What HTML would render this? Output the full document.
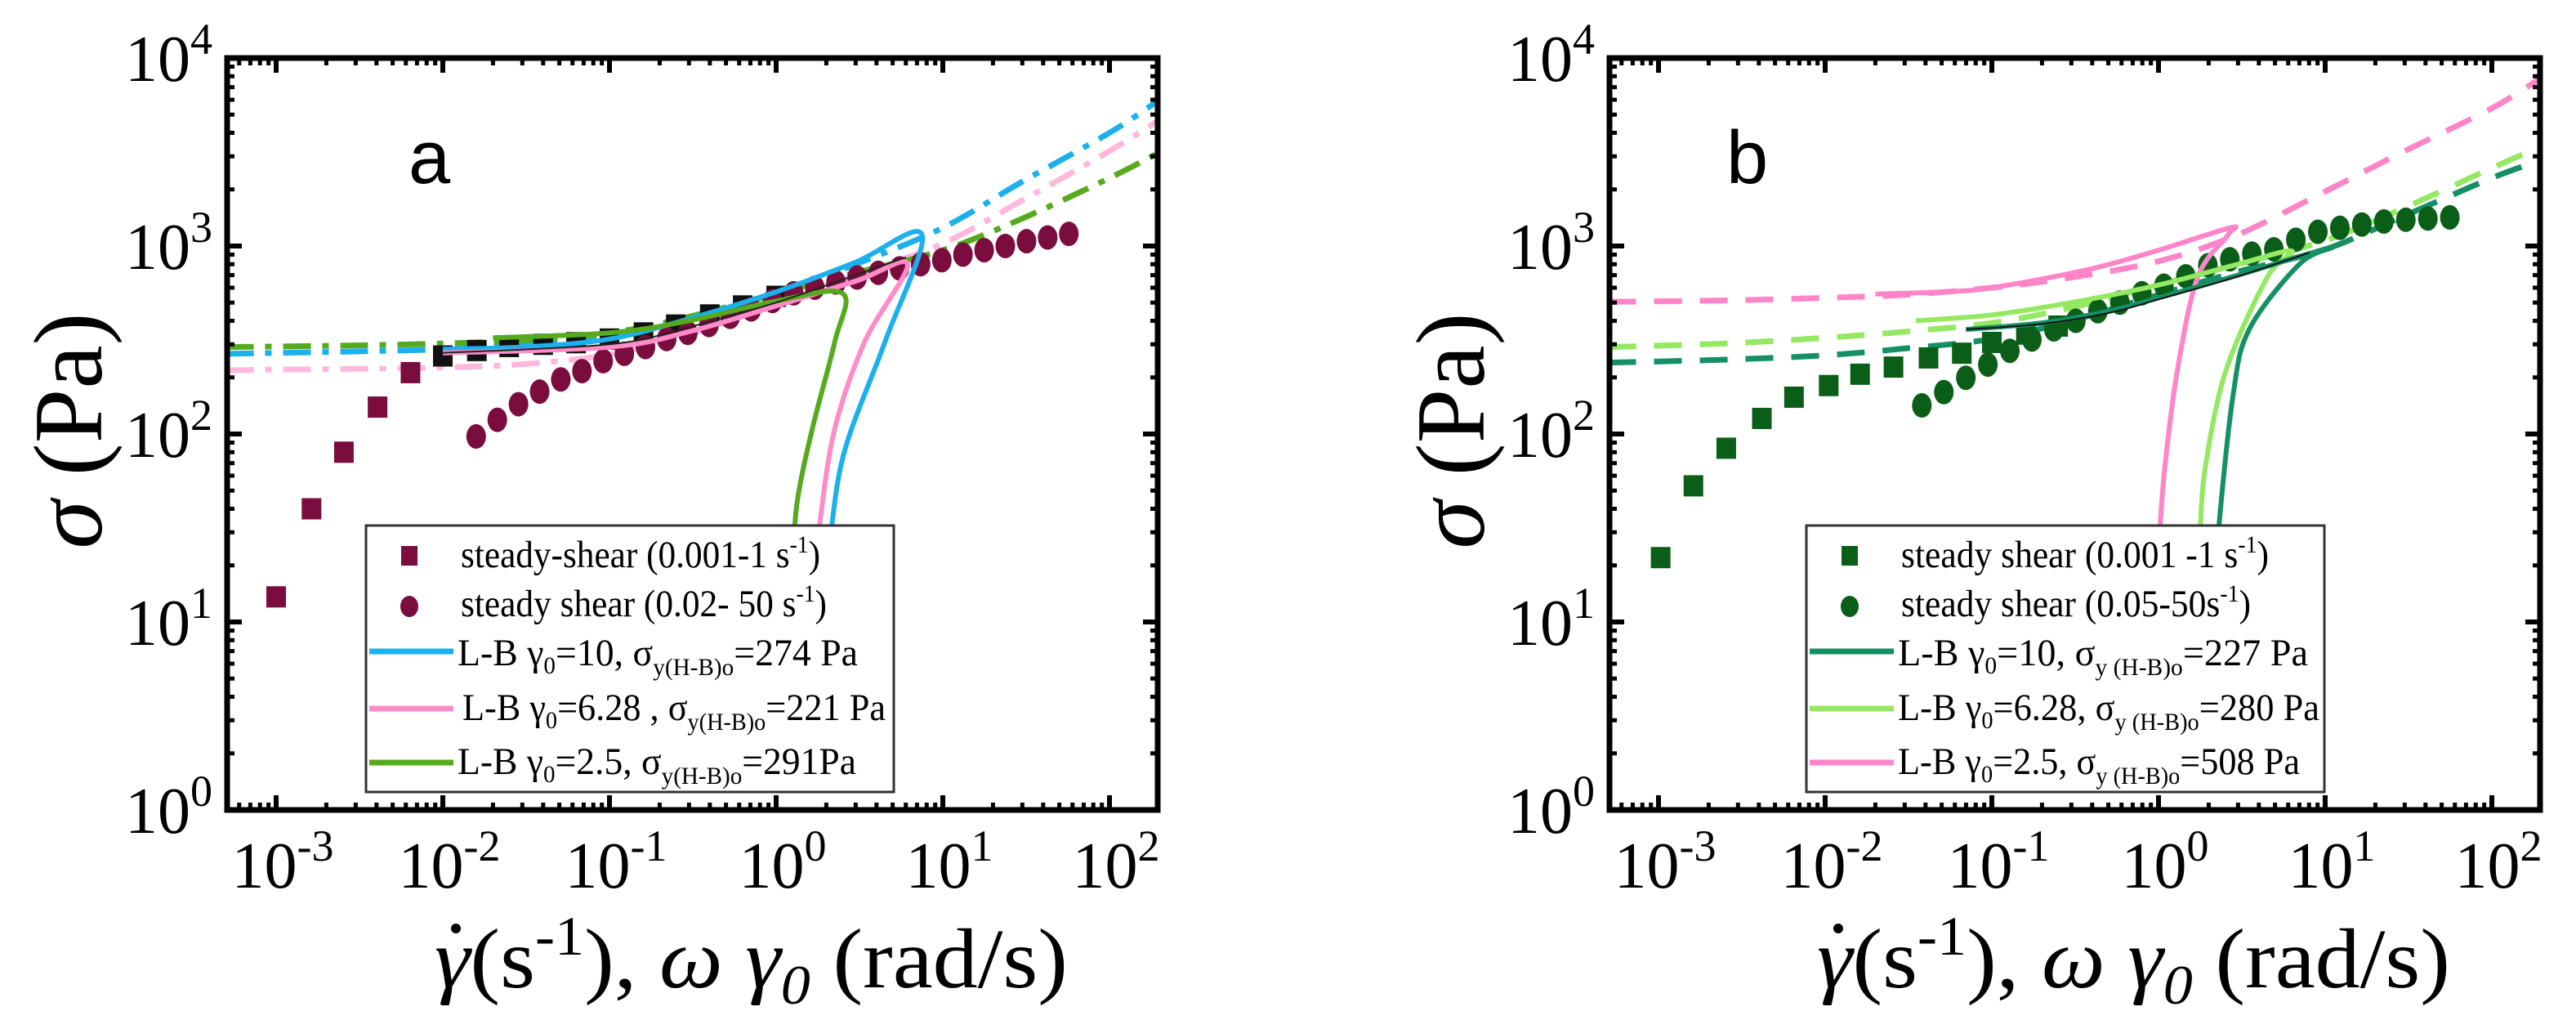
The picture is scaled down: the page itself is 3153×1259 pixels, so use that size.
<!DOCTYPE html>
<html><head><meta charset="utf-8"><style>
html,body{margin:0;padding:0;background:#fff;}
svg{display:block;font-family:"Liberation Serif",serif;}
</style></head><body>
<svg id="chart" width="3153" height="1259" viewBox="0 0 3153 1259" xmlns="http://www.w3.org/2000/svg">
<g id="pa"></g>
<g id="pb"></g>
</svg>
<script>
// ---------- shared x grid for model curves ----------
const curveX = [5e-4, 1e-3, 3e-3, 0.01, 0.03, 0.1, 0.3, 1, 3, 10, 30, 100, 200];
const xTickExp = [-3, -2, -1, 0, 1, 2];
const yTickExp = [0, 1, 2, 3, 4];

// ---------- panel a data ----------
const aSqX = [1e-3, 1.63e-3, 2.55e-3, 4.06e-3, 6.4e-3];
const aSqY = [13.6, 40, 80, 139, 212];
const aSqBlackX = [0.01, 0.016, 0.025, 0.04, 0.063, 0.1, 0.16, 0.25, 0.4, 0.63, 1];
const aSqBlackY = [260, 278, 292, 300, 306, 320, 345, 380, 430, 480, 540];
const aCircLogX = [-1.80,-1.673,-1.546,-1.419,-1.292,-1.165,-1.038,-0.911,-0.784,-0.657,-0.53,-0.403,-0.276,-0.149,-0.022,0.105,0.232,0.359,0.486,0.613,0.74,0.867,0.994,1.121,1.248,1.375,1.502,1.629,1.756];
const aCircY = [97,119,144,168,195,216,244,267,290,320,345,380,420,460,510,560,600,640,680,720,760,800,840,900,950,1000,1060,1110,1160];
const aBlue = [267,270,275,282,295,330,420,560,800,1250,2200,4000,6000];
const aPink = [218,220,222,226,235,265,340,490,700,1030,1750,3200,4700];
const aGreen = [290,292,296,303,315,345,420,560,720,950,1400,2300,3150];
const aBlueSolidX = [0.01,0.03,0.1,0.3,1,3,7.5,4.5,2.6,2.15,2.05];
const aBlueSolidY = [283,290,320,410,570,820,1150,310,84,32,20];
const aPinkSolidX = [0.01,0.1,0.3,1,3,6.15,3.4,2.25,1.84,1.75];
const aPinkSolidY = [270,290,350,480,650,800,310,107,35,20];
const aGreenSolidX = [0.02,0.1,0.3,1,2.5,2.25,1.65,1.34,1.25];
const aGreenSolidY = [325,345,400,510,560,310,107,44,20];
const aBlackX = [0.01,0.1,0.3,1,3,6];
const aBlackY = [270,300,370,500,700,870];

// ---------- panel b data ----------
const bSqX = [1.03e-3,1.62e-3,2.55e-3,4.17e-3,6.5e-3,0.0105,0.0162,0.0257,0.0417,0.066,0.1,0.16,0.25];
const bSqY = [22,53,84,121,157,181,208,227,254,269,307,340,375];
const bCircLogX = [-1.42,-1.288,-1.156,-1.024,-0.892,-0.76,-0.628,-0.496,-0.364,-0.232,-0.1,0.032,0.164,0.296,0.428,0.56,0.692,0.824,0.956,1.088,1.22,1.352,1.484,1.616,1.748];
const bCircY = [142,167,199,234,277,318,360,400,450,500,560,615,690,790,850,910,960,1080,1190,1250,1300,1350,1380,1400,1420];
const bPink = [505,508,515,530,550,600,680,830,1150,1950,3200,5400,7900];
const bLight = [290,295,305,325,350,390,470,620,800,1070,1600,2600,3400];
const bTeal = [240,243,250,262,285,320,400,550,730,960,1450,2300,2870];
const bPinkSolidX = [0.02,0.05,0.1,0.38,1,2.7,2.6,1.72,1.3,1.1,1.02,1.0];
const bPinkSolidY = [555,570,600,750,950,1250,1140,684,220,71,32,20];
const bLightSolidX = [0.035,0.1,0.3,1,3,6.3,4.5,2.55,1.93,1.78,1.75];
const bLightSolidY = [400,430,500,620,800,940,684,220,71,32,20];
const bTealSolidX = [0.07,0.2,0.5,1,3,7,11,7,3.5,2.8,2.3,2.25];
const bTealSolidY = [360,390,450,530,700,880,980,800,360,160,32,20];
const bBlackX = [0.07,0.2,0.5,1,3,8];
const bBlackY = [360,385,440,520,690,920];

const NS = "http://www.w3.org/2000/svg";
function mk(tag, attrs, parent) {
  const e = document.createElementNS(NS, tag);
  for (const k in attrs) e.setAttribute(k, attrs[k]);
  parent.appendChild(e);
  return e;
}
function smoothPath(pts) {
  let d = "M" + pts[0][0].toFixed(1) + "," + pts[0][1].toFixed(1);
  for (let i = 0; i < pts.length - 1; i++) {
    const p0 = pts[Math.max(0, i - 1)], p1 = pts[i], p2 = pts[i + 1], p3 = pts[Math.min(pts.length - 1, i + 2)];
    const c1x = p1[0] + (p2[0] - p0[0]) / 6, c1y = p1[1] + (p2[1] - p0[1]) / 6;
    const c2x = p2[0] - (p3[0] - p1[0]) / 6, c2y = p2[1] - (p3[1] - p1[1]) / 6;
    d += " C" + c1x.toFixed(1) + "," + c1y.toFixed(1) + " " + c2x.toFixed(1) + "," + c2y.toFixed(1) + " " + p2[0].toFixed(1) + "," + p2[1].toFixed(1);
  }
  return d;
}

function drawPanel(g, off, cfg) {
  const L = 278 + off, R = 1417 + off, T = 71, B = 991;
  const X = v => 338 + off + 204 * Math.log10(v / 1e-3);
  const Y = v => B - 230 * Math.log10(v);
  const defs = mk("defs", {}, g);
  const cp = mk("clipPath", {id: "clip" + off}, defs);
  mk("rect", {x: L, y: T, width: R - L, height: B - T}, cp);
  const plot = mk("g", {"clip-path": "url(#clip" + off + ")"}, g);
  
  

  cfg.dashed.forEach(c => {
    const p = mk("path", {d: smoothPath(curveX.map((x, i) => [X(x), Y(c.y[i])])), fill: "none", stroke: c.color, "stroke-width": 7, "stroke-dasharray": c.dash}, plot);
    
    
  });
  cfg.squares.forEach(s => {
    s.x.forEach((x, i) => {
      const r = mk("rect", {x: X(x) - 12, y: Y(s.y[i]) - 13, width: 24, height: 26, fill: s.color}, plot);
      
      
    });
  });
  cfg.circles.lx.forEach((lx, i) => {
    const c = mk("ellipse", {cx: X(Math.pow(10, lx)), cy: Y(cfg.circles.y[i]), rx: 12, ry: 15, fill: cfg.circles.color}, plot);
    
    
  });
  cfg.solid.forEach(c => {
    const p = mk("path", {d: smoothPath(c.x.map((x, i) => [X(x), Y(c.y[i])])), fill: "none", stroke: c.color, "stroke-width": c.w || 6}, plot);
    
    
  });

  const fr = mk("rect", {x: L, y: T, width: R - L, height: B - T, fill: "none", stroke: "#000", "stroke-width": 7}, g);
  
  
  const tk = mk("g", {stroke: "#000"}, g);
  
  
  for (let e = -4; e <= 2; e++) for (let m = 1; m <= 9; m++) {
    const v = m * Math.pow(10, e), x = X(v);
    if (x < L + 3 || x > R - 3) continue;
    const len = m === 1 ? 18 : 9;
    mk("line", {x1: x, y1: B, x2: x, y2: B - len, "stroke-width": m === 1 ? 6 : 5}, tk);
    mk("line", {x1: x, y1: T, x2: x, y2: T + len, "stroke-width": m === 1 ? 6 : 5}, tk);
  }
  for (let e = 0; e <= 3; e++) for (let m = 1; m <= 9; m++) {
    const v = m * Math.pow(10, e), y = Y(v);
    const len = m === 1 ? 18 : 9;
    mk("line", {x1: L, y1: y, x2: L + len, y2: y, "stroke-width": m === 1 ? 6 : 5}, tk);
    mk("line", {x1: R, y1: y, x2: R - len, y2: y, "stroke-width": m === 1 ? 6 : 5}, tk);
  }
  xTickExp.forEach(e => {
    const t = mk("text", {x: X(Math.pow(10, e)) + 8, y: 1086, "font-size": 80, "text-anchor": "middle"}, g);
    
    
    t.innerHTML = '10<tspan dy="-33" font-size="54">' + e + '</tspan>';
  });
  yTickExp.forEach(e => {
    const t = mk("text", {x: 260 + off, y: Y(Math.pow(10, e)) + 28, "font-size": 80, "text-anchor": "end"}, g);
    
    
    t.innerHTML = '10<tspan dy="-33" font-size="54">' + e + '</tspan>';
  });
  const yt = mk("text", {transform: "translate(" + (124 + off) + ",527) rotate(-90)", "font-size": 120, "text-anchor": "middle"}, g);
  
  
  yt.innerHTML = '<tspan font-style="italic">σ</tspan> (Pa)';
  const xt = mk("text", {x: 532 + off, y: 1208, "font-size": 104, textLength: 775, lengthAdjust: "spacingAndGlyphs"}, g);
  
  
  xt.innerHTML = '<tspan font-style="italic">γ</tspan>(s<tspan dy="-40" font-size="68">-1</tspan><tspan dy="40">), </tspan><tspan font-style="italic">ω γ</tspan><tspan font-style="italic" font-size="68" dy="20">0</tspan><tspan dy="-20"> (rad/s)</tspan>';
  const dot = mk("circle", {cx: 558 + off, cy: 1136, r: 6, fill: "#000"}, g);
  
  
  const pl = mk("text", {x: cfg.letterX + off, y: 224, "font-size": 92, "font-family": "Liberation Sans, sans-serif"}, g);
  
  
  pl.textContent = cfg.letter;

  const lg = mk("g", {}, g);
  
  
  const lx0 = 448 + cfg.legDx + off, lw = cfg.legW;
  mk("rect", {x: lx0, y: 643, width: lw, height: 326, fill: "#fff", stroke: "#333", "stroke-width": 3}, lg);
  const rowsY = [694, 754, 814, 881, 947], lineY = [0, 0, 797, 867, 933];
  cfg.legend.forEach((it, i) => {
    const ent = mk("g", {}, lg);
    
    
    const mx = lx0 + 53;
    if (it.type === "sq") mk("rect", {x: mx - 10, y: rowsY[i] - 26, width: 20, height: 24, fill: it.color}, ent);
    else if (it.type === "ci") mk("ellipse", {cx: mx, cy: rowsY[i] - 12, rx: 11, ry: 13, fill: it.color}, ent);
    else mk("line", {x1: lx0 + 4, y1: lineY[i], x2: lx0 + 107, y2: lineY[i], stroke: it.color, "stroke-width": 7}, ent);
    const t = mk("text", {x: lx0 + (it.type === "ln" ? 112 : 116) + (it.dx || 0), y: rowsY[i], "font-size": 47, textLength: it.tl, lengthAdjust: "spacingAndGlyphs"}, ent);
    t.innerHTML = it.html;
  });
}

const sub0 = '<tspan font-size="30" dy="10">0</tspan><tspan dy="-10">';
drawPanel(document.getElementById("pa"), 0, {
  letter: "a", letterX: 500,
  legDx: 0, legW: 646,
  dashed: [
    {name: "model-blue-dashdot", color: "#1cb0ec", y: aBlue, dash: "34 14 8 14"},
    {name: "model-pink-dashdot", color: "#ffb8dc", y: aPink, dash: "34 14 8 14"},
    {name: "model-green-dashdot", color: "#55aa1e", y: aGreen, dash: "34 14 8 14"}
  ],
  squares: [
    {name: "steady-shear-square", color: "#7a0c3e", x: aSqX, y: aSqY},
    {name: "steady-shear-square-dark", color: "#111", x: aSqBlackX, y: aSqBlackY}
  ],
  circles: {color: "#7a0c3e", lx: aCircLogX, y: aCircY},
  solid: [
    {name: "lb-blue-solid", color: "#1cb0ec", x: aBlueSolidX, y: aBlueSolidY},
    {name: "lb-pink-solid", color: "#ff8cc8", x: aPinkSolidX, y: aPinkSolidY},
    {name: "lb-green-solid", color: "#55aa1e", x: aGreenSolidX, y: aGreenSolidY},
    {name: "black-dashed", color: "#222", x: aBlackX, y: aBlackY, w: 2}
  ],
  legend: [
    {type: "sq", color: "#7a0c3e", tl: 440, html: 'steady-shear (0.001-1 s<tspan font-size="30" dy="-18">-1</tspan><tspan dy="18">)</tspan>'},
    {type: "ci", color: "#7a0c3e", tl: 448, html: 'steady shear (0.02- 50 s<tspan font-size="30" dy="-18">-1</tspan><tspan dy="18">)</tspan>'},
    {type: "ln", color: "#1cb0ec", tl: 490, html: 'L-B γ' + sub0 + '=10, σ</tspan><tspan font-size="30" dy="12">y(H-B)o</tspan><tspan dy="-12">=274 Pa</tspan>'},
    {type: "ln", color: "#ff8cc8", dx: 6, tl: 518, html: 'L-B γ' + sub0 + '=6.28 , σ</tspan><tspan font-size="30" dy="12">y(H-B)o</tspan><tspan dy="-12">=221 Pa</tspan>'},
    {type: "ln", color: "#55aa1e", tl: 488, html: 'L-B γ' + sub0 + '=2.5, σ</tspan><tspan font-size="30" dy="12">y(H-B)o</tspan><tspan dy="-12">=291Pa</tspan>'}
  ]
});
drawPanel(document.getElementById("pb"), 1692, {
  letter: "b", letterX: 2113 - 1692,
  legDx: 2211 - 1692 - 448, legW: 634,
  dashed: [
    {name: "model-pink-dashed", color: "#ff84c8", y: bPink, dash: "34 22"},
    {name: "model-lightgreen-dashed", color: "#94e862", y: bLight, dash: "34 22"},
    {name: "model-teal-dashed", color: "#159064", y: bTeal, dash: "34 22"}
  ],
  squares: [{name: "steady-shear-square", color: "#0b5e18", x: bSqX, y: bSqY}],
  circles: {color: "#0b5e18", lx: bCircLogX, y: bCircY},
  solid: [
    {name: "lb-pink-solid", color: "#ff84c8", x: bPinkSolidX, y: bPinkSolidY},
    {name: "lb-lightgreen-solid", color: "#94e862", x: bLightSolidX, y: bLightSolidY},
    {name: "lb-teal-solid", color: "#159064", x: bTealSolidX, y: bTealSolidY},
    {name: "black-line", color: "#111", x: bBlackX, y: bBlackY, w: 2}
  ],
  legend: [
    {type: "sq", color: "#0b5e18", tl: 450, html: 'steady shear (0.001 -1 s<tspan font-size="30" dy="-18">-1</tspan><tspan dy="18">)</tspan>'},
    {type: "ci", color: "#0b5e18", tl: 428, html: 'steady shear (0.05-50s<tspan font-size="30" dy="-18">-1</tspan><tspan dy="18">)</tspan>'},
    {type: "ln", color: "#159064", tl: 502, html: 'L-B γ' + sub0 + '=10, σ</tspan><tspan font-size="30" dy="12">y (H-B)o</tspan><tspan dy="-12">=227 Pa</tspan>'},
    {type: "ln", color: "#94e862", tl: 516, html: 'L-B γ' + sub0 + '=6.28, σ</tspan><tspan font-size="30" dy="12">y (H-B)o</tspan><tspan dy="-12">=280 Pa</tspan>'},
    {type: "ln", color: "#ff84c8", tl: 492, html: 'L-B γ' + sub0 + '=2.5, σ</tspan><tspan font-size="30" dy="12">y (H-B)o</tspan><tspan dy="-12">=508 Pa</tspan>'}
  ]
});
</script>
</body></html>
